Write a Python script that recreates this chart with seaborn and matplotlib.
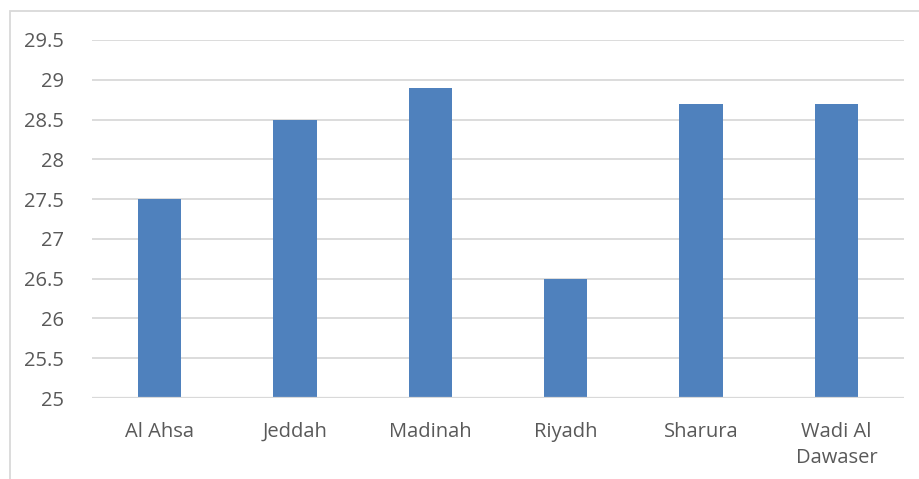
import matplotlib
matplotlib.use("Agg")
import matplotlib.pyplot as plt
import seaborn as sns
import pandas as pd
from matplotlib.patches import Rectangle

cities = ["Al Ahsa", "Jeddah", "Madinah", "Riyadh", "Sharura", "Wadi Al\nDawaser"]
values = [27.5, 28.5, 28.9, 26.5, 28.7, 28.7]
y_ticks = [25, 25.5, 26, 26.5, 27, 27.5, 28, 28.5, 29, 29.5]
y_labels = ["25", "25.5", "26", "26.5", "27", "27.5", "28", "28.5", "29", "29.5"]

sns.set_theme(style="white")
plt.rcParams["font.family"] = ["Open Sans", "DejaVu Sans"]

df = pd.DataFrame({"city": cities, "value": values})

fig = plt.figure(figsize=(9.2, 4.79), dpi=100)
ax = fig.add_axes([92 / 920, 1 - 398 / 479, (904 - 92) / 920, (398 - 40) / 479])

sns.barplot(data=df, x="city", y="value", color="#4F81BD", width=0.32,
            saturation=1, linewidth=0, ax=ax, zorder=3)

ax.set_ylim(25, 29.5)
ax.set_xlim(-0.5, len(cities) - 0.5)
ax.set_yticks(y_ticks)
ax.set_yticklabels(y_labels)
ax.yaxis.grid(True, color="#D9D9D9", linewidth=1.3, zorder=0)
ax.xaxis.grid(False)
for side in ["top", "right", "left", "bottom"]:
    ax.spines[side].set_visible(False)
ax.axhline(25, color="#D9D9D9", linewidth=1.6, zorder=4)
ax.tick_params(axis="both", length=0, labelsize=14.5, labelcolor="#595959")
ax.tick_params(axis="y", pad=20)
ax.tick_params(axis="x", pad=17)
for lbl in ax.get_xticklabels():
    lbl.set_linespacing(1.45)
ax.set_xlabel("")
ax.set_ylabel("")

# chart-area frame
fig.patches.append(Rectangle((10 / 920, -0.2), 1.2, 1 - 11 / 479 + 0.2,
                             transform=fig.transFigure, fill=False,
                             edgecolor="#D9D9D9", linewidth=1.3))

fig.savefig("out.png", dpi=100)
